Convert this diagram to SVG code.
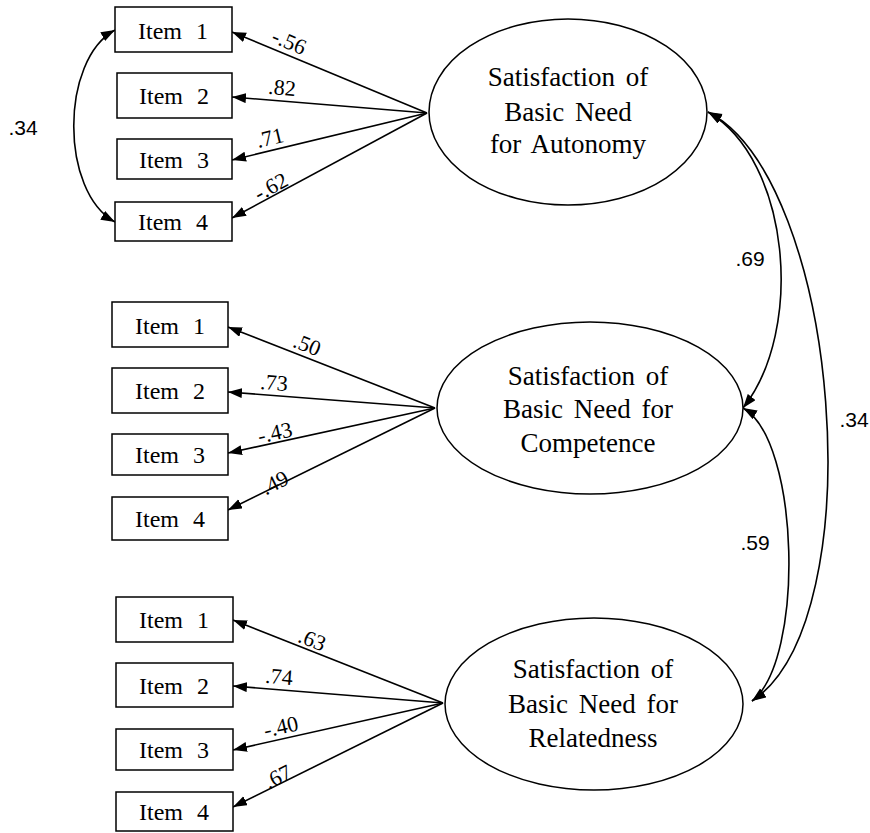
<svg xmlns="http://www.w3.org/2000/svg" width="870" height="833" viewBox="0 0 870 833">
<style>
.box{fill:#fff;stroke:#000;stroke-width:1.5}
.lat{fill:#fff;stroke:#000;stroke-width:1.5}
.it{font-family:"Liberation Serif",serif;font-size:24px;word-spacing:8px;text-anchor:middle;fill:#000}
.lt{font-family:"Liberation Serif",serif;font-size:27px;word-spacing:4px;text-anchor:middle;fill:#000}
.co{font-family:"Liberation Serif",serif;font-size:22px;text-anchor:middle;fill:#000}
.cv{font-family:"Liberation Sans",sans-serif;font-size:21px;text-anchor:middle;fill:#000}
.ln{fill:none;stroke:#000;stroke-width:1.6;marker-end:url(#ah)}
.cc{fill:none;stroke:#000;stroke-width:1.6;marker-start:url(#ah);marker-end:url(#ah)}
</style>
<defs>
<marker id="ah" markerUnits="userSpaceOnUse" markerWidth="15" markerHeight="11" refX="14" refY="5" orient="auto-start-reverse">
<path d="M0,0 L14,5 L0,10 z" fill="#000"/>
</marker>
</defs>
<rect width="870" height="833" fill="#fff"/>
<g id="connectors">
<path class="ln" d="M427,113 L232,32"/>
<path class="ln" d="M427,113 L232,97"/>
<path class="ln" d="M427,113 L232,160"/>
<path class="ln" d="M427,113 L232,218"/>
<path class="ln" d="M435,408 L228,327"/>
<path class="ln" d="M435,408 L228,392"/>
<path class="ln" d="M435,408 L228,453"/>
<path class="ln" d="M435,408 L228,510"/>
<path class="ln" d="M443,703 L233,620"/>
<path class="ln" d="M443,703 L233,686"/>
<path class="ln" d="M443,703 L233,750"/>
<path class="ln" d="M443,703 L233,807"/>
<path class="cc" d="M115,30 C60,60 60,192 115,222"/>
<path class="cc" d="M708,112 C790,160 805,330 743,408"/>
<path class="cc" d="M708,112 C840,180 875,620 752,701"/>
<path class="cc" d="M743,408 C800,440 805,660 752,701"/>
<text class="co" transform="translate(289,42) rotate(22.5)" y="7">-.56</text>
<text class="co" transform="translate(282,88) rotate(4.7)" y="7">.82</text>
<text class="co" transform="translate(270,138) rotate(-13.5)" y="7">.71</text>
<text class="co" transform="translate(271,187) rotate(-28.4)" y="7">-.62</text>
<text class="co" transform="translate(307,345) rotate(21.4)" y="7">.50</text>
<text class="co" transform="translate(274,383) rotate(4.5)" y="7">.73</text>
<text class="co" transform="translate(275,433) rotate(-12.4)" y="7">-.43</text>
<text class="co" transform="translate(275,483) rotate(-26.5)" y="7">.49</text>
<text class="co" transform="translate(312,640) rotate(21.8)" y="7">.63</text>
<text class="co" transform="translate(279,677) rotate(4.7)" y="7">.74</text>
<text class="co" transform="translate(281,727) rotate(-12.7)" y="7">-.40</text>
<text class="co" transform="translate(278,777) rotate(-26.6)" y="7">.67</text>
<text class="cv" x="23" y="135">.34</text>
<text class="cv" x="750" y="266">.69</text>
<text class="cv" x="854" y="427">.34</text>
<text class="cv" x="755" y="550">.59</text>
</g>
<g id="t1"><rect class="box" x="115" y="7" width="117" height="45"/><text class="it" x="173" y="39">Item 1</text></g>
<g id="t2"><rect class="box" x="117" y="73" width="115" height="45"/><text class="it" x="174" y="104">Item 2</text></g>
<g id="t3"><rect class="box" x="117" y="139" width="115" height="40"/><text class="it" x="174" y="168">Item 3</text></g>
<g id="t4"><rect class="box" x="115" y="202" width="117" height="39"/><text class="it" x="173" y="230">Item 4</text></g>
<g id="m1"><rect class="box" x="112" y="302" width="116" height="45"/><text class="it" x="170" y="334">Item 1</text></g>
<g id="m2"><rect class="box" x="112" y="368" width="116" height="45"/><text class="it" x="170" y="399">Item 2</text></g>
<g id="m3"><rect class="box" x="112" y="434" width="116" height="41"/><text class="it" x="170" y="463">Item 3</text></g>
<g id="m4"><rect class="box" x="112" y="497" width="116" height="43"/><text class="it" x="170" y="527">Item 4</text></g>
<g id="b1"><rect class="box" x="116" y="597" width="117" height="45"/><text class="it" x="174" y="628">Item 1</text></g>
<g id="b2"><rect class="box" x="116" y="663" width="117" height="44"/><text class="it" x="174" y="694">Item 2</text></g>
<g id="b3"><rect class="box" x="116" y="729" width="117" height="41"/><text class="it" x="174" y="758">Item 3</text></g>
<g id="b4"><rect class="box" x="116" y="792" width="117" height="39"/><text class="it" x="174" y="820">Item 4</text></g>
<g id="autonomy"><ellipse class="lat" cx="568" cy="112" rx="139" ry="93"/>
<text class="lt" x="568" y="86">Satisfaction of</text>
<text class="lt" x="568" y="121">Basic Need</text>
<text class="lt" x="568" y="153">for Autonomy</text></g>
<g id="competence"><ellipse class="lat" cx="590" cy="408" rx="153" ry="86"/>
<text class="lt" x="588" y="385">Satisfaction of</text>
<text class="lt" x="588" y="418">Basic Need for</text>
<text class="lt" x="588" y="452">Competence</text></g>
<g id="relatedness"><ellipse class="lat" cx="594" cy="704" rx="149" ry="86"/>
<text class="lt" x="593" y="678">Satisfaction of</text>
<text class="lt" x="593" y="713">Basic Need for</text>
<text class="lt" x="593" y="747">Relatedness</text></g>
</svg>
